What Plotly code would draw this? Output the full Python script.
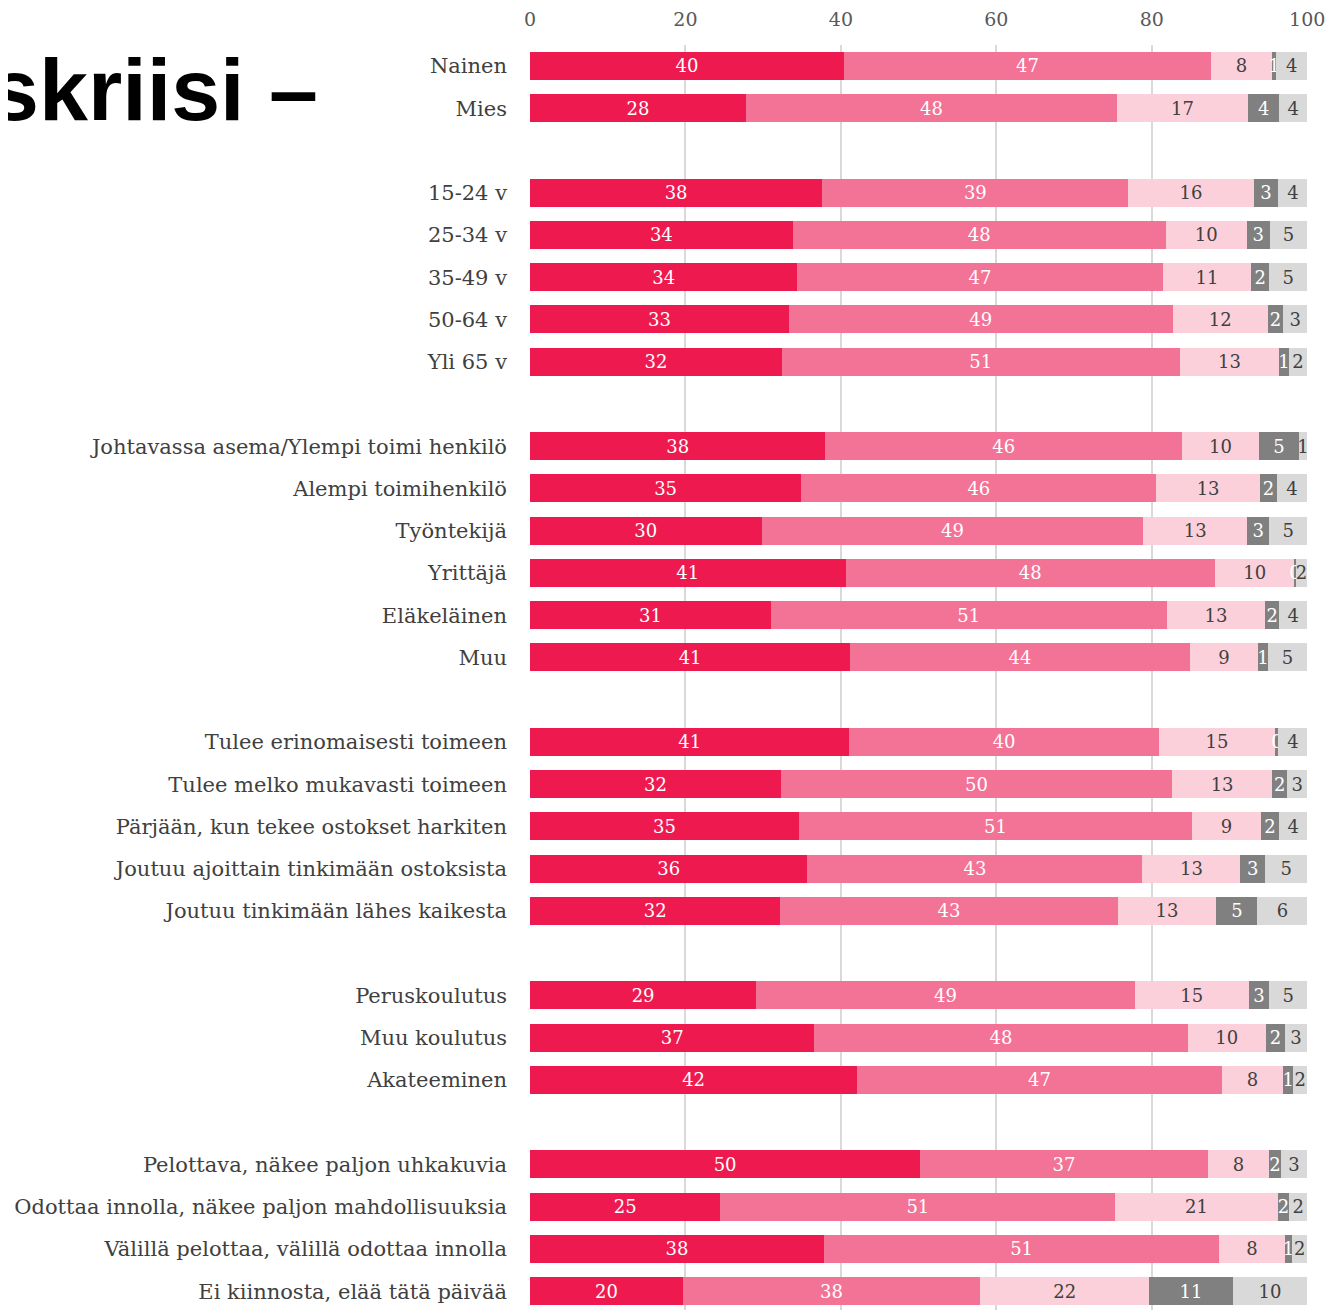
import math
import plotly.graph_objects as go

# ---- data ----
groups = [
    ["Nainen", "Mies"],
    ["15-24 v", "25-34 v", "35-49 v", "50-64 v", "Yli 65 v"],
    ["Johtavassa asema/Ylempi toimi henkilö", "Alempi toimihenkilö", "Työntekijä",
     "Yrittäjä", "Eläkeläinen", "Muu"],
    ["Tulee erinomaisesti toimeen", "Tulee melko mukavasti toimeen",
     "Pärjään, kun tekee ostokset harkiten", "Joutuu ajoittain tinkimään ostoksista",
     "Joutuu tinkimään lähes kaikesta"],
    ["Peruskoulutus", "Muu koulutus", "Akateeminen"],
    ["Pelottava, näkee paljon uhkakuvia", "Odottaa innolla, näkee paljon mahdollisuuksia",
     "Välillä pelottaa, välillä odottaa innolla", "Ei kiinnosta, elää tätä päivää"],
]

s1 = [40.4, 27.8,
      37.6, 33.8, 34.4, 33.3, 32.4,
      38.0, 34.9, 29.8, 40.6, 31.0, 41.2,
      41.1, 32.3, 34.6, 35.7, 32.2,
      29.1, 36.6, 42.1,
      50.2, 24.5, 37.8, 19.7]
s2 = [47.2, 47.7,
      39.4, 48.0, 47.0, 49.4, 51.2,
      45.9, 45.7, 49.1, 47.5, 50.9, 43.7,
      39.8, 50.3, 50.6, 43.1, 43.4,
      48.7, 48.0, 46.9,
      37.0, 50.8, 50.9, 38.2]
s3 = [7.9, 16.9,
      16.1, 10.4, 11.4, 12.2, 12.8,
      9.9, 13.3, 13.4, 10.3, 12.7, 8.8,
      15.0, 12.9, 8.8, 12.6, 12.7,
      14.7, 10.1, 7.9,
      7.9, 20.9, 8.4, 21.8]
s4 = [0.5, 4.0,
      3.2, 3.0, 2.3, 2.0, 1.2,
      5.1, 2.2, 2.8, 0.1, 1.8, 1.2,
      0.4, 1.9, 2.4, 3.2, 5.3,
      2.6, 2.4, 1.3,
      1.5, 1.5, 1.0, 10.7]
s5 = [4.0, 3.6,
      3.7, 4.8, 4.9, 3.1, 2.4,
      1.1, 3.9, 4.9, 1.5, 3.6, 5.1,
      3.7, 2.6, 3.6, 5.4, 6.4,
      4.9, 2.9, 1.8,
      3.4, 2.3, 1.9, 9.6]

x_ticks = [0, 20, 40, 60, 80, 100]

# ---- layout of rows (one blank row between groups) ----
labels, ypos = [], []
p = 0
for g in groups:
    for c in g:
        labels.append(c)
        ypos.append(p)
        p += 1
    p += 1


def lab(vals):
    return [str(int(math.floor(v + 0.5 + 1e-9))) for v in vals]


series = [
    (s1, "#EE1A4F", "white"),
    (s2, "#F37396", "white"),
    (s3, "#FBD0DA", "#404040"),
    (s4, "#808080", "white"),
    (s5, "#D9D9D9", "#404040"),
]

W, H = 1331, 1302
ML, MT, MR, MB = 522, 31, 31, 0
plot_w = W - ML - MR
plot_h = H - MT - MB
row_px = 42.45
y_top = -0.495
y_bot = y_top + plot_h / row_px

fig = go.Figure()
for vals, col, tcol in series:
    fig.add_trace(go.Bar(
        x=vals, y=ypos, orientation="h",
        marker=dict(color=col, line=dict(width=0)),
        text=lab(vals), textposition="inside", insidetextanchor="middle",
        textfont=dict(family="DejaVu Serif", size=18, color=tcol),
        constraintext="none", cliponaxis=False,
        hoverinfo="skip", showlegend=False,
    ))

fig.update_layout(
    barmode="stack",
    bargap=0.34,
    width=W, height=H,
    margin=dict(l=ML, r=MR, t=MT, b=MB),
    paper_bgcolor="white", plot_bgcolor="white",
    uniformtext=dict(minsize=18, mode="show"),
    xaxis=dict(
        side="top", range=[0, 100.1], tickvals=x_ticks,
        showgrid=True, gridcolor="#D9D9D9", gridwidth=2,
        zeroline=False, showline=False, ticks="",
        tickfont=dict(family="DejaVu Serif", size=19, color="#595959"),
        ticklabelstandoff=14,
    ),
    yaxis=dict(
        range=[y_bot, y_top], tickvals=ypos, ticktext=labels,
        showgrid=False, zeroline=False, showline=False, ticks="",
        tickfont=dict(family="DejaVu Serif", size=21, color="#404040"),
        ticklabelstandoff=22,
    ),
    annotations=[dict(
        text="<b>Talouskriisi –</b>", xref="paper", yref="paper",
        x=(320 - 530) / plot_w, y=1 + (39 - 84) / plot_h,
        xanchor="right", yanchor="middle", showarrow=False,
        font=dict(family="Liberation Sans", size=88, color="black"),
    )],
)

fig.write_html("out.html")
